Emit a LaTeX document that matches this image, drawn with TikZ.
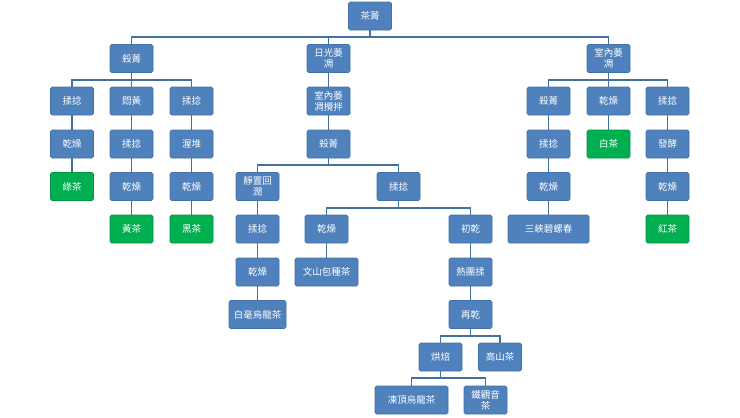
\documentclass[tikz,border=0pt]{standalone}
\usepackage{fontspec}
\setmainfont{Noto Sans CJK TC}
\definecolor{boxblue}{HTML}{4F81BD}
\definecolor{boxedge}{HTML}{4272A8}
\definecolor{teagreen}{HTML}{00B050}
\definecolor{linec}{HTML}{41719C}
\begin{document}
\begin{tikzpicture}[x=1pt,y=-1pt,
  bx/.style={draw=boxedge,fill=boxblue,line width=0.6pt,rounded corners=1.5pt,
    minimum width=43pt,minimum height=28pt,inner sep=1pt,text=white,align=center,
    font=\fontsize{9.5}{11}\selectfont},
  gbx/.style={bx,fill=teagreen,draw=teagreen!85!black},
  ln/.style={draw=linec,line width=1.8pt}]
\useasboundingbox[fill=white] (0,0) rectangle (740,418);
% row 0
\node[bx] (r) at (370,16) {茶菁};
% row 1
\node[bx] (a) at (131.5,58.5) {殺菁};
\node[bx] (b) at (328.5,58.5) {日光萎\\凋};
\node[bx] (c) at (608.5,58.5) {室內萎\\凋};
% row 2
\node[bx] (a1) at (72,101) {揉捻};
\node[bx] (a2) at (131.5,101) {悶黃};
\node[bx] (a3) at (191.5,101) {揉捻};
\node[bx] (b1) at (328.5,101) {室內萎\\凋攪拌};
\node[bx] (c1) at (548.5,101) {殺菁};
\node[bx] (c2) at (608.5,101) {乾燥};
\node[bx] (c3) at (667.5,101) {揉捻};
% row 3
\node[bx] (a11) at (72,144) {乾燥};
\node[bx] (a21) at (131.5,144) {揉捻};
\node[bx] (a31) at (191.5,144) {渥堆};
\node[bx] (b2) at (328.5,144) {殺菁};
\node[bx] (c11) at (548.5,144) {揉捻};
\node[gbx] (c21) at (608.5,144) {白茶};
\node[bx] (c31) at (667.5,144) {發酵};
% row 4
\node[gbx] (a12) at (72,186.5) {綠茶};
\node[bx] (a22) at (131.5,186.5) {乾燥};
\node[bx] (a32) at (191.5,186.5) {乾燥};
\node[bx] (d1) at (257.5,186.5) {靜置回\\潤};
\node[bx] (e1) at (398.5,186.5) {揉捻};
\node[bx] (c12) at (548.5,186.5) {乾燥};
\node[bx] (c32) at (667.5,186.5) {乾燥};
% row 5
\node[gbx] (a23) at (131.5,229) {黃茶};
\node[gbx] (a33) at (191.5,229) {黑茶};
\node[bx] (d2) at (257.5,229) {揉捻};
\node[bx] (e2) at (326.5,229) {乾燥};
\node[bx] (f1) at (470.5,229) {初乾};
\node[bx,minimum width=81pt] (c13) at (548.5,229) {三峽碧螺春};
\node[gbx] (c33) at (667.5,229) {紅茶};
% row 6
\node[bx] (d3) at (257.5,272) {乾燥};
\node[bx,minimum width=63pt] (e3) at (326.5,272) {文山包種茶};
\node[bx] (f2) at (470.5,272) {熱團揉};
% row 7
\node[bx,minimum width=57pt] (d4) at (257.5,314.5) {白毫烏龍茶};
\node[bx] (f3) at (470.5,314.5) {再乾};
% row 8
\node[bx] (g1) at (440.5,357) {烘焙};
\node[bx] (g2) at (500,357) {高山茶};
% row 9
\node[bx,minimum width=73pt] (h1) at (411.5,400) {凍頂烏龍茶};
\node[bx] (h2) at (485.5,400) {鐵觀音\\茶};
% connectors
\foreach \p/\c in {r/a,r/b,r/c,a/a1,a/a2,a/a3,b/b1,c/c1,c/c2,c/c3,
  a1/a11,a2/a21,a3/a31,b1/b2,c1/c11,c2/c21,c3/c31,
  a11/a12,a21/a22,a31/a32,b2/d1,b2/e1,c11/c12,c31/c32,
  a22/a23,a32/a33,d1/d2,e1/e2,e1/f1,c12/c13,c32/c33,
  d2/d3,e2/e3,f1/f2,d3/d4,f2/f3,f3/g1,f3/g2,g1/h1,g1/h2}
  \draw[ln] (\p.south) -- ++(0,-7pt) -| (\c.north);
\end{tikzpicture}
\end{document}
